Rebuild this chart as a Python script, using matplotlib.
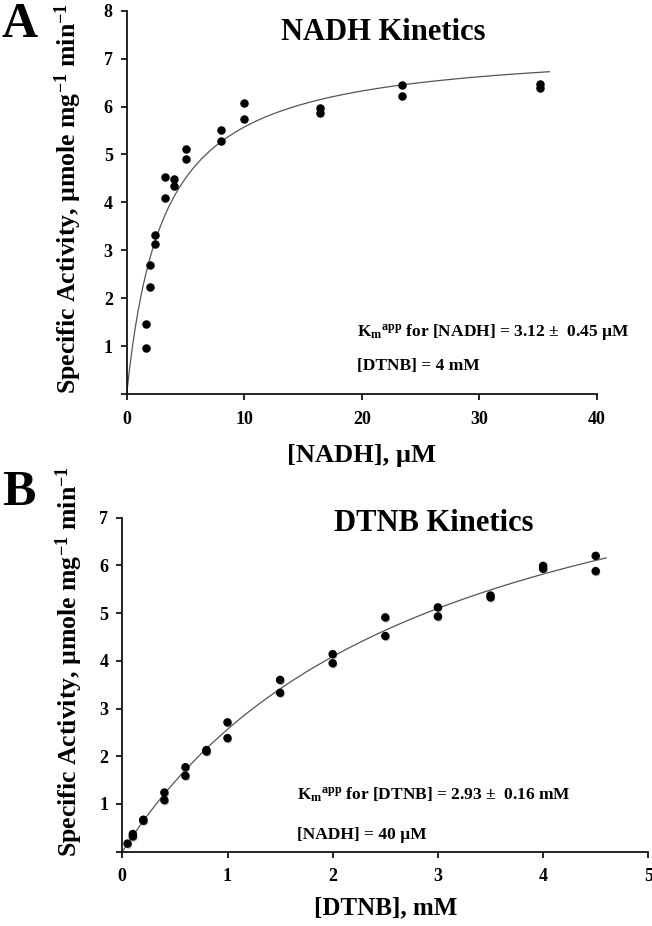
import numpy as np
import matplotlib
matplotlib.use("Agg")
import matplotlib.pyplot as plt
import matplotlib.patheffects as pe

plt.rcParams['font.family'] = ['Liberation Serif', 'DejaVu Serif']
plt.rcParams['font.weight'] = 'bold'
plt.rcParams['axes.labelweight'] = 'bold'
plt.rcParams['mathtext.fontset'] = 'custom'
plt.rcParams['mathtext.rm'] = 'Liberation Serif:bold'
plt.rcParams['mathtext.it'] = 'Liberation Serif:bold'
plt.rcParams['mathtext.bf'] = 'Liberation Serif:bold'

# panel A: NADH kinetics (duplicates at each concentration)
nadh_x = [1.64, 1.64, 2.0, 2.0, 2.43, 2.43, 3.23, 3.23, 4.03, 4.03, 5.02, 5.02,
          8.03, 8.03, 10.0, 10.0, 16.45, 16.45, 23.46, 23.46, 35.2, 35.2]
nadh_y = [1.47, 0.97, 2.70, 2.23, 3.31, 3.13, 4.53, 4.10, 4.49, 4.34, 5.11, 4.91,
          5.50, 5.29, 6.07, 5.73, 5.96, 5.86, 6.44, 6.23, 6.47, 6.39]
nadh_km = 3.12
nadh_vmax = 7.31
nadh_xmax = 35.97

# panel B: DTNB kinetics
dtnb_x = [0.05, 0.1, 0.1, 0.2, 0.2, 0.4, 0.4, 0.6, 0.6, 0.8, 0.8, 1.0, 1.0,
          1.5, 1.5, 2.0, 2.0, 2.5, 2.5, 3.0, 3.0, 3.5, 3.5, 4.0, 4.0, 4.5, 4.5]
dtnb_y = [0.17, 0.37, 0.32, 0.67, 0.65, 1.24, 1.08, 1.77, 1.59, 2.13, 2.10, 2.71, 2.38,
          3.60, 3.33, 4.14, 3.95, 4.91, 4.52, 5.12, 4.93, 5.37, 5.33, 5.99, 5.93, 6.20, 5.88]
dtnb_km = 2.93
dtnb_vmax = 10.08
dtnb_xmax = 4.6

ylab = "Specific Activity, \u00b5mole mg$^{-1}$ min$^{-1}$"

fig = plt.figure(figsize=(6.52, 9.26), dpi=100)
axA = fig.add_axes([126.7/652, 1-394/926, 470/652, 383.3/926])
axB = fig.add_axes([122.3/652, 1-851.7/926, 526/652, 334/926])


def style(ax):
    for s in ['top', 'right']:
        ax.spines[s].set_visible(False)
    for s in ['left', 'bottom']:
        ax.spines[s].set_linewidth(1.2)
    ax.tick_params(direction='out', length=4, width=1.2, labelsize=13)
    ax.tick_params(axis='x', pad=8)
    ax.tick_params(axis='y', pad=6)


# --- A ---
xs = np.linspace(0, nadh_xmax, 300)
axA.plot(xs, nadh_vmax*xs/(nadh_km+xs), color='#555555', lw=0.9)
axA.scatter(nadh_x, nadh_y, s=26, color='black', zorder=3)
axA.set_xlim(0, 40)
axA.set_ylim(0, 8)
axA.set_xticks([0, 10, 20, 30, 40])
axA.set_yticks(range(0, 9))
axA.set_yticklabels([''] + [str(i) for i in range(1, 9)])
style(axA)
axA.set_xlabel("[NADH], \u00b5M", fontsize=19, labelpad=12)
axA.set_ylabel(ylab, fontsize=18.5)
axA.yaxis.set_label_coords(-0.09, 0.51)
axA.text(21.8, 7.55, "NADH Kinetics", fontsize=22, ha='center', va='center')
axA.text(19.6, 1.29, "K$_{m}{}^{app}$ for [NADH] = 3.12 \u00b1  0.45 \u00b5M",
         fontsize=12.5, ha='left', va='center')
axA.text(19.6, 0.58, "[DTNB] = 4 mM", fontsize=12.5, ha='left', va='center')

# --- B ---
xs = np.linspace(0, dtnb_xmax, 300)
axB.plot(xs, dtnb_vmax*xs/(dtnb_km+xs), color='#555555', lw=0.9)
axB.scatter(dtnb_x, dtnb_y, s=26, color='black', zorder=3,
            path_effects=[pe.SimplePatchShadow(offset=(0.8, -1.2), shadow_rgbFace='0.55', alpha=0.6),
                          pe.Normal()])
axB.set_xlim(0, 5)
axB.set_ylim(0, 7)
axB.set_xticks(range(0, 6))
axB.set_yticks(range(0, 8))
axB.set_yticklabels([''] + [str(i) for i in range(1, 8)])
style(axB)
axB.set_xlabel("[DTNB], mM", fontsize=18, labelpad=8)
axB.set_ylabel(ylab, fontsize=18.5)
axB.yaxis.set_label_coords(-0.07, 0.57)
axB.text(2.96, 6.87, "DTNB Kinetics", fontsize=22, ha='center', va='center')
axB.text(1.66, 1.19, "K$_{m}{}^{app}$ for [DTNB] = 2.93 \u00b1  0.16 mM",
         fontsize=12.5, ha='left', va='center')
axB.text(1.66, 0.35, "[NADH] = 40 \u00b5M", fontsize=12.5, ha='left', va='center')

fig.text(2/652, 1-2/926, "A", fontsize=36, ha='left', va='top')
fig.text(2/652, 1-470/926, "B", fontsize=36, ha='left', va='top')

fig.savefig("out.png", dpi=100)
